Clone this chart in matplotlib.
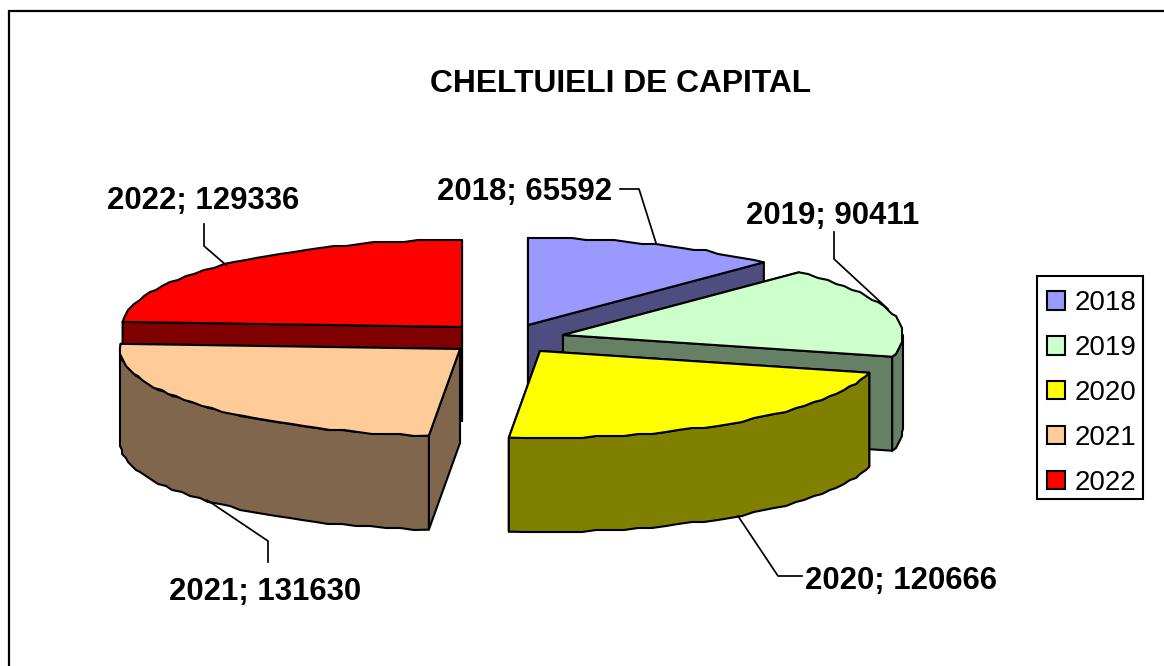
import numpy as np
import matplotlib
matplotlib.use("Agg")
import matplotlib.pyplot as plt
from matplotlib.patches import Polygon, Patch, Rectangle

plt.rcParams['font.family'] = ['Liberation Sans', 'DejaVu Sans']

# --- data ---
years = ['2018', '2019', '2020', '2021', '2022']
values = [65592, 90411, 120666, 131630, 129336]

# --- colours ---
top_colors = ['#9999FF', '#CCFFCC', '#FFFF00', '#FFCC99', '#FF0000']
side_colors = ['#4D4D80', '#668066', '#808000', '#80664D', '#800000']

# --- pie geometry, in pixels ---
RX, RY, DEPTH = 340, 87, 94
centers = [(528, 325), (563, 335), (540, 351), (460, 349), (462, 327)]
draw_order = [0, 1, 4, 3, 2]  # back slices first
LW = 1.5
JAG = 2  # the original outline is stepped

W, H = 1164, 666
fig = plt.figure(figsize=(W / 100, H / 100), dpi=100)
ax = fig.add_axes([0, 0, 1, 1])
ax.set_xlim(0, W)
ax.set_ylim(H, 0)
ax.axis('off')


def rim(cx, cy, deg):
    t = np.radians(deg)
    return cx + RX * np.sin(t), cy - RY * np.cos(t)


def arc(cx, cy, a0, a1):
    n = max(int(abs(a1 - a0) / 2.5) + 2, 2)
    x, y = rim(cx, cy, np.linspace(a0, a1, n))
    x[1:-1] = np.round(x[1:-1] / JAG) * JAG
    y[1:-1] = np.round(y[1:-1] / JAG) * JAG
    return x, y


def poly(xy, color, z):
    ax.add_patch(Polygon(xy, closed=True, facecolor=color, edgecolor='black',
                         linewidth=LW, joinstyle='round', zorder=z))


edges = np.cumsum([0] + values) / sum(values) * 360

z = 1
for i in draw_order:
    cx, cy = centers[i]
    a0, a1 = edges[i], edges[i + 1]

    # cut faces, the one lower on screen goes last
    for a in sorted([a0, a1], key=lambda d: rim(cx, cy, d)[1]):
        rx_, ry_ = rim(cx, cy, a)
        poly([(cx, cy), (rx_, ry_), (rx_, ry_ + DEPTH), (cx, cy + DEPTH)], side_colors[i], z)
        z += 1

    # outer wall, only the front part of the rim shows
    w0, w1 = max(a0, 90), min(a1, 270)
    if w1 > w0:
        x, y = arc(cx, cy, w0, w1)
        poly(np.r_[np.c_[x, y], np.c_[x, y + DEPTH][::-1]], side_colors[i], z)
        z += 1

    # top
    x, y = arc(cx, cy, a0, a1)
    poly(np.r_[[(cx, cy)], np.c_[x, y]], top_colors[i], z)
    z += 1

# outer frame, runs off the right and bottom of the picture
ax.plot([9, 9, W + 5], [H + 5, 11, 11], color='black', lw=1.6, zorder=z, solid_joinstyle='miter')

ax.text(620.5, 84, 'CHELTUIELI DE CAPITAL', fontsize=22.9, fontweight='bold', ha='center', va='center', zorder=z)

# data labels with leader lines
label_pos = [(525, 192), (833, 216), (901, 581), (265, 592), (203, 201)]
leaders = [
    ([620, 639, 656], [189, 189, 243]),
    ([834, 834, 888], [232, 259, 309]),
    ([802, 778, 738], [576, 576, 516]),
    ([268, 268, 207], [562, 541, 500]),
    ([204, 204, 226], [224, 246, 265]),
]
for i, (lx, ly) in enumerate(label_pos):
    ax.text(lx, ly, f'{years[i]}; {values[i]}', fontsize=22.4, fontweight='bold',
            ha='center', va='center', zorder=z)
    ax.plot(leaders[i][0], leaders[i][1], color='black', lw=1.25, zorder=z)

# legend box is drawn apart, its rows sit lower than matplotlib would centre them
ax.add_patch(Rectangle((1037, 276), 106, 223, facecolor='white', edgecolor='black',
                       linewidth=LW, zorder=z))
z += 1
handles = [Patch(facecolor=c, edgecolor='black', linewidth=LW) for c in top_colors]
leg = ax.legend(handles, years, loc='upper left', bbox_to_anchor=(1038, 281),
                bbox_transform=ax.transData, borderaxespad=0, fontsize=20,
                handlelength=0.65, handleheight=0.65, handletextpad=0.33,
                labelspacing=0.68, borderpad=0.33, frameon=False)
leg.set_zorder(z)

fig.savefig('out.png', dpi=100)
